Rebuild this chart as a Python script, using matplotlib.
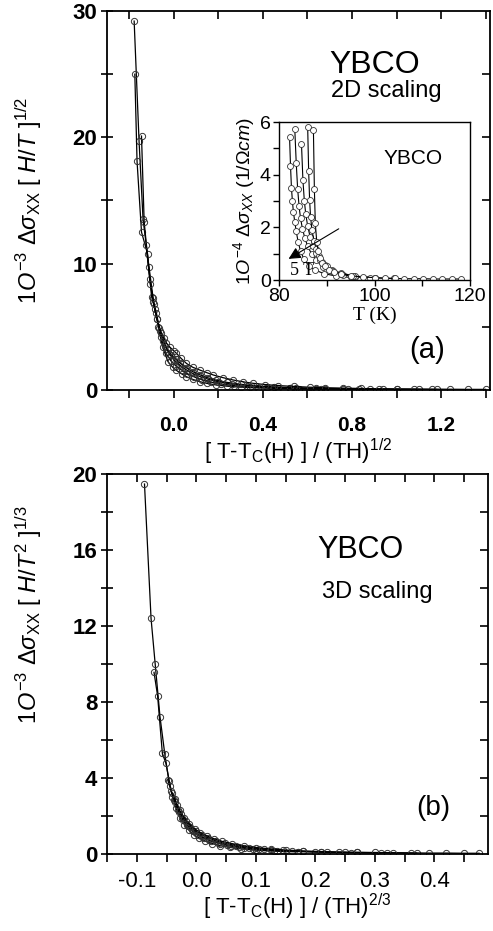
import matplotlib
matplotlib.use("Agg")
import numpy as np
import matplotlib.pyplot as plt
import matplotlib.lines as mlines
from matplotlib.ticker import MultipleLocator, FormatStrFormatter

plt.rcParams['font.family'] = ['Liberation Sans', 'DejaVu Sans']
plt.rcParams['mathtext.fontset'] = 'custom'
plt.rcParams['mathtext.rm'] = 'Liberation Sans'
plt.rcParams['mathtext.it'] = 'Liberation Sans:italic'
plt.rcParams['mathtext.bf'] = 'Liberation Sans:bold'

# ---------------- data: 2D scaling (panel a) ----------------
a1_x = [-0.178, -0.156, -0.138, -0.111, -0.093, -0.070, -0.050, -0.026, -0.005, 0.012, 0.035, 0.057,
        0.085, 0.117, 0.15, 0.19, 0.24, 0.30, 0.38, 0.47, 0.56, 0.66]
a1_y = [29.2, 19.7, 13.5, 9.7, 7.3, 5.0, 3.4, 2.24, 1.8, 1.55, 1.28, 1.05, 0.84, 0.66, 0.52, 0.40,
        0.30, 0.22, 0.16, 0.12, 0.09, 0.07]
a2_x = [-0.175, -0.165, -0.145, -0.118, -0.100, -0.078, -0.058, -0.035, -0.012, 0.01, 0.035, 0.06,
        0.09, 0.125, 0.165, 0.21, 0.27, 0.34, 0.42, 0.52, 0.64, 0.76, 0.88]
a2_y = [25.0, 18.1, 12.5, 10.8, 7.4, 6.1, 4.2, 2.9, 2.3, 1.9, 1.58, 1.3, 1.05, 0.82, 0.63, 0.48,
        0.35, 0.25, 0.18, 0.13, 0.09, 0.07, 0.05]
a3_x = [-0.145, -0.133, -0.108, -0.093, -0.075, -0.058, -0.040, -0.020, 0.0, 0.025, 0.05, 0.08,
        0.115, 0.155, 0.2, 0.26, 0.33, 0.42, 0.52, 0.64, 0.78, 0.94, 1.1]
a3_y = [20.1, 13.3, 8.8, 7.0, 5.6, 4.5, 3.5, 2.85, 2.4, 2.0, 1.66, 1.35, 1.08, 0.85, 0.65, 0.48,
        0.35, 0.24, 0.17, 0.12, 0.08, 0.06, 0.04]
a4_x = [-0.125, -0.105, -0.085, -0.065, -0.048, -0.030, -0.012, 0.008, 0.03, 0.057, 0.085, 0.117,
        0.15, 0.19, 0.24, 0.30, 0.37, 0.45, 0.55, 0.68, 0.83, 1.0, 1.18]
a4_y = [11.5, 8.4, 6.4, 4.9, 3.9, 3.25, 2.8, 2.45, 2.1, 1.75, 1.45, 1.2, 0.98, 0.78, 0.6, 0.45,
        0.33, 0.24, 0.17, 0.11, 0.08, 0.05, 0.04]
a5_x = [-0.09, -0.075, -0.060, -0.045, -0.033, -0.018, 0.0, 0.012, 0.033, 0.057, 0.085, 0.117,
        0.147, 0.177, 0.22, 0.267, 0.31, 0.356, 0.41, 0.47, 0.54, 0.61, 0.68, 0.76, 0.84, 0.92,
        1.0, 1.08, 1.16, 1.24, 1.32, 1.4]
a5_y = [6.8, 5.6, 4.7, 4.1, 3.7, 3.4, 3.1, 2.9, 2.5, 2.1, 1.8, 1.58, 1.38, 1.19, 0.98, 0.79, 0.65,
        0.53, 0.43, 0.35, 0.28, 0.22, 0.18, 0.15, 0.12, 0.1, 0.09, 0.08, 0.07, 0.06, 0.05, 0.05]
panel_a = [(a1_x, a1_y), (a2_x, a2_y), (a3_x, a3_y), (a4_x, a4_y), (a5_x, a5_y)]

# ---------------- data: inset, raw conductivity vs T ----------------
i1_T = [82.2, 82.4, 82.6, 82.8, 83.0, 83.3, 83.6, 84.0, 84.5, 85.2, 86.2, 87.5, 89.5, 92, 95]
i1_y = [5.45, 4.35, 3.5, 3.0, 2.6, 2.2, 1.85, 1.45, 1.1, 0.8, 0.55, 0.38, 0.24, 0.15, 0.1]
i2_T = [83.3, 83.6, 83.9, 84.2, 84.5, 84.9, 85.4, 86.0, 86.8, 87.8, 89.2, 91, 93.5, 96, 100]
i2_y = [5.72, 4.45, 3.45, 2.8, 2.35, 1.95, 1.6, 1.28, 1.0, 0.75, 0.5, 0.33, 0.2, 0.12, 0.08]
i3_T = [84.7, 85.0, 85.3, 85.6, 86.0, 86.5, 87.1, 87.8, 88.6, 89.6, 91, 93, 96, 100]
i3_y = [5.17, 3.8, 3.0, 2.5, 2.05, 1.65, 1.3, 1.02, 0.78, 0.58, 0.4, 0.26, 0.15, 0.09]
i4_T = [86.0, 86.2, 86.4, 86.6, 86.9, 87.3, 87.8, 88.4, 89.1, 90.0, 91.3, 93, 95.5, 99, 104]
i4_y = [5.8, 4.15, 3.05, 2.4, 1.9, 1.5, 1.18, 0.92, 0.7, 0.52, 0.36, 0.24, 0.15, 0.09, 0.06]
i5_T = [87.2, 87.4, 87.6, 87.9, 88.2, 88.6, 89.1, 89.7, 90.5, 91.5, 93, 95, 97.5, 100, 102.2,
        104.3, 106.2, 108.2, 110.2, 112.3, 114.2, 116.2, 118.2]
i5_y = [5.7, 3.45, 2.15, 1.45, 1.1, 0.85, 0.66, 0.52, 0.4, 0.31, 0.22, 0.16, 0.12, 0.09, 0.07,
        0.06, 0.05, 0.05, 0.05, 0.04, 0.04, 0.04, 0.04]
inset = [(i1_T, i1_y), (i2_T, i2_y), (i3_T, i3_y), (i4_T, i4_y), (i5_T, i5_y)]

# ---------------- data: 3D scaling (panel b) ----------------
b1_x = [-0.087, -0.076, -0.069, -0.061, -0.053, -0.046, -0.040, -0.034, -0.027, -0.020, -0.012,
        -0.004, 0.005, 0.015, 0.027, 0.04, 0.056, 0.075, 0.10, 0.13, 0.17]
b1_y = [19.47, 12.4, 9.98, 7.23, 5.28, 3.86, 3.0, 2.4, 1.9, 1.55, 1.25, 1.02, 0.84, 0.68, 0.55,
        0.44, 0.35, 0.27, 0.2, 0.15, 0.11]
b2_x = [-0.071, -0.065, -0.057, -0.051, -0.044, -0.038, -0.031, -0.024, -0.016, -0.008, 0.0, 0.01,
        0.022, 0.036, 0.052, 0.072, 0.095, 0.125, 0.16, 0.2, 0.25]
b2_y = [9.56, 8.33, 5.3, 4.77, 3.6, 2.85, 2.3, 1.88, 1.55, 1.28, 1.08, 0.9, 0.73, 0.58, 0.46, 0.36,
        0.27, 0.2, 0.15, 0.11, 0.08]
b3_x = [-0.048, -0.042, -0.036, -0.029, -0.022, -0.014, -0.006, 0.003, 0.013, 0.025, 0.04, 0.058,
        0.08, 0.105, 0.135, 0.17, 0.21, 0.26, 0.31]
b3_y = [3.9, 3.3, 2.75, 2.2, 1.78, 1.45, 1.2, 1.0, 0.83, 0.68, 0.54, 0.42, 0.32, 0.24, 0.18, 0.13,
        0.1, 0.07, 0.05]
b4_x = [-0.04, -0.033, -0.026, -0.018, -0.01, -0.001, 0.009, 0.02, 0.033, 0.048, 0.066, 0.088,
        0.114, 0.145, 0.18, 0.22, 0.27, 0.32, 0.37]
b4_y = [3.2, 2.6, 2.1, 1.72, 1.42, 1.2, 1.0, 0.84, 0.69, 0.56, 0.44, 0.34, 0.26, 0.19, 0.14, 0.1,
        0.08, 0.06, 0.05]
b5_x = [-0.036, -0.028, -0.02, -0.012, -0.003, 0.007, 0.018, 0.03, 0.044, 0.06, 0.08, 0.1, 0.125,
        0.15, 0.18, 0.21, 0.24, 0.27, 0.3, 0.33, 0.36, 0.39, 0.42, 0.45, 0.475]
b5_y = [2.9, 2.3, 1.9, 1.58, 1.33, 1.12, 0.95, 0.8, 0.66, 0.54, 0.42, 0.34, 0.27, 0.21, 0.16, 0.13,
        0.1, 0.09, 0.08, 0.07, 0.06, 0.05, 0.05, 0.04, 0.04]
panel_b = [(b1_x, b1_y), (b2_x, b2_y), (b3_x, b3_y), (b4_x, b4_y), (b5_x, b5_y)]

mk = dict(color='black', lw=0.9, marker='o', ms=4.5, mfc='none', mec='#333333', mew=0.7)

fig = plt.figure(figsize=(4.93, 9.31), dpi=100)

RECT_A = [0.217, 0.5811, 0.777, 0.4071]
RECT_B = [0.217, 0.0827, 0.773, 0.4082]


def style_axes(ax, bold_x, bold_y, xfs, yfs, xmaj, xmin, ymaj, ymin, xpad):
    ax.xaxis.set_major_locator(MultipleLocator(xmaj))
    ax.xaxis.set_minor_locator(MultipleLocator(xmin))
    ax.yaxis.set_major_locator(MultipleLocator(ymaj))
    ax.yaxis.set_minor_locator(MultipleLocator(ymin))
    for s in ax.spines.values():
        s.set_linewidth(1.3)
    ax.tick_params(axis='x', which='both', direction='out', top=False, bottom=True, length=6,
                   width=1.2, labelsize=xfs, pad=xpad)
    ax.tick_params(axis='y', which='both', direction='inout', left=True, right=False, length=8,
                   width=1.2, labelsize=yfs, pad=3)
    for lab in ax.get_xticklabels():
        lab.set_fontweight('bold' if bold_x else 'normal')
    for lab in ax.get_yticklabels():
        lab.set_fontweight('bold' if bold_y else 'normal')
    # inward tick marks along the top and right frame, at the locator positions
    x0, x1 = ax.get_xlim()
    y0, y1 = ax.get_ylim()
    xt = np.unique(np.concatenate([ax.xaxis.get_majorticklocs(), ax.xaxis.get_minorticklocs()]))
    xt = xt[(xt >= x0) & (xt <= x1)]
    yt = np.unique(np.concatenate([ax.yaxis.get_majorticklocs(), ax.yaxis.get_minorticklocs()]))
    yt = yt[(yt > y0) & (yt < y1)]
    ax.plot(xt, np.ones_like(xt), transform=ax.get_xaxis_transform(), ls='none',
            marker=mlines.TICKDOWN, ms=6, mew=1.2, color='black', clip_on=False, zorder=5)
    ax.plot(np.ones_like(yt), yt, transform=ax.get_yaxis_transform(), ls='none',
            marker=mlines.TICKLEFT, ms=6, mew=1.2, color='black', clip_on=False, zorder=5)


# ---------------- panel a ----------------
axa = fig.add_axes(RECT_A)
for x, y in panel_a:
    axa.plot(x, y, **mk)
axa.set_xlim(-0.30, 1.42)
axa.set_ylim(0, 30)
style_axes(axa, True, True, 15, 16, 0.4, 0.2, 10, 5, 13)
axa.set_xlabel(r'[ T-T$_\mathrm{C}$(H) ] / (TH)$^{1/2}$', fontsize=16, labelpad=1)
axa.set_ylabel(r'$\mathit{1O}^{-3}\ \Delta\sigma_{\mathrm{XX}}\ [\ H/T\ ]^{1/2}$', fontsize=17)
axa.yaxis.set_label_coords(-0.165, 0.5)
axa.text(0.70, 0.857, 'YBCO', transform=axa.transAxes, fontsize=23, ha='center', va='center')
axa.text(0.73, 0.79, '2D scaling', transform=axa.transAxes, fontsize=17, ha='center', va='center')
axa.text(0.835, 0.105, '(a)', transform=axa.transAxes, fontsize=21, ha='center', va='center')

# ---------------- panel b ----------------
axb = fig.add_axes(RECT_B)
for x, y in panel_b:
    axb.plot(x, y, **mk)
axb.set_xlim(-0.15, 0.49)
axb.set_ylim(0, 20)
axb.xaxis.set_major_formatter(FormatStrFormatter('%.1f'))
style_axes(axb, False, True, 16, 16, 0.1, 0.05, 4, 2, 6)
axb.set_xlabel(r'[ T-T$_\mathrm{C}$(H) ] / (TH)$^{2/3}$', fontsize=16, labelpad=0)
axb.set_ylabel(r'$\mathit{1O}^{-3}\ \Delta\sigma_{\mathrm{XX}}\ [\ H/T^{2}\ ]^{1/3}$', fontsize=17)
axb.yaxis.set_label_coords(-0.165, 0.63)
axb.text(0.664, 0.80, 'YBCO', transform=axb.transAxes, fontsize=22, ha='center', va='center')
axb.text(0.709, 0.69, '3D scaling', transform=axb.transAxes, fontsize=17, ha='center', va='center')
axb.text(0.856, 0.121, '(b)', transform=axb.transAxes, fontsize=20, ha='center', va='center')

# ---------------- inset ----------------
axi = fig.add_axes([0.566, 0.6992, 0.3874, 0.1697])
for T, y in inset:
    axi.plot(T, y, color='black', lw=0.8, marker='o', ms=4.3, mfc='white', mec='#333333', mew=0.6)
axi.set_xlim(80, 120)
axi.set_ylim(0, 6)
axi.xaxis.set_major_locator(MultipleLocator(20))
axi.xaxis.set_minor_locator(MultipleLocator(10))
axi.yaxis.set_major_locator(MultipleLocator(2))
axi.yaxis.set_minor_locator(MultipleLocator(1))
for s in axi.spines.values():
    s.set_linewidth(1.0)
axi.tick_params(axis='both', which='both', direction='out', length=4, width=1.0, labelsize=14,
                pad=2)
axi.set_xlabel('T (K)', family='Liberation Serif', fontsize=14, labelpad=1)
axi.set_ylabel(r'$\mathit{1O}^{-4}\ \Delta\sigma_{XX}\ (1/\Omega cm)$', fontsize=14, labelpad=2)
axi.text(0.7, 0.77, 'YBCO', transform=axi.transAxes, fontsize=15, ha='center', va='center')
axi.annotate('', xy=(81.5, 0.75), xytext=(93.0, 2.0),
             arrowprops=dict(arrowstyle='-|>', color='black', lw=0.8, mutation_scale=18))
axi.text(82.3, 0.03, '5 T', family='Liberation Serif', fontsize=13, ha='left', va='bottom')

fig.savefig('out.png', dpi=100)
